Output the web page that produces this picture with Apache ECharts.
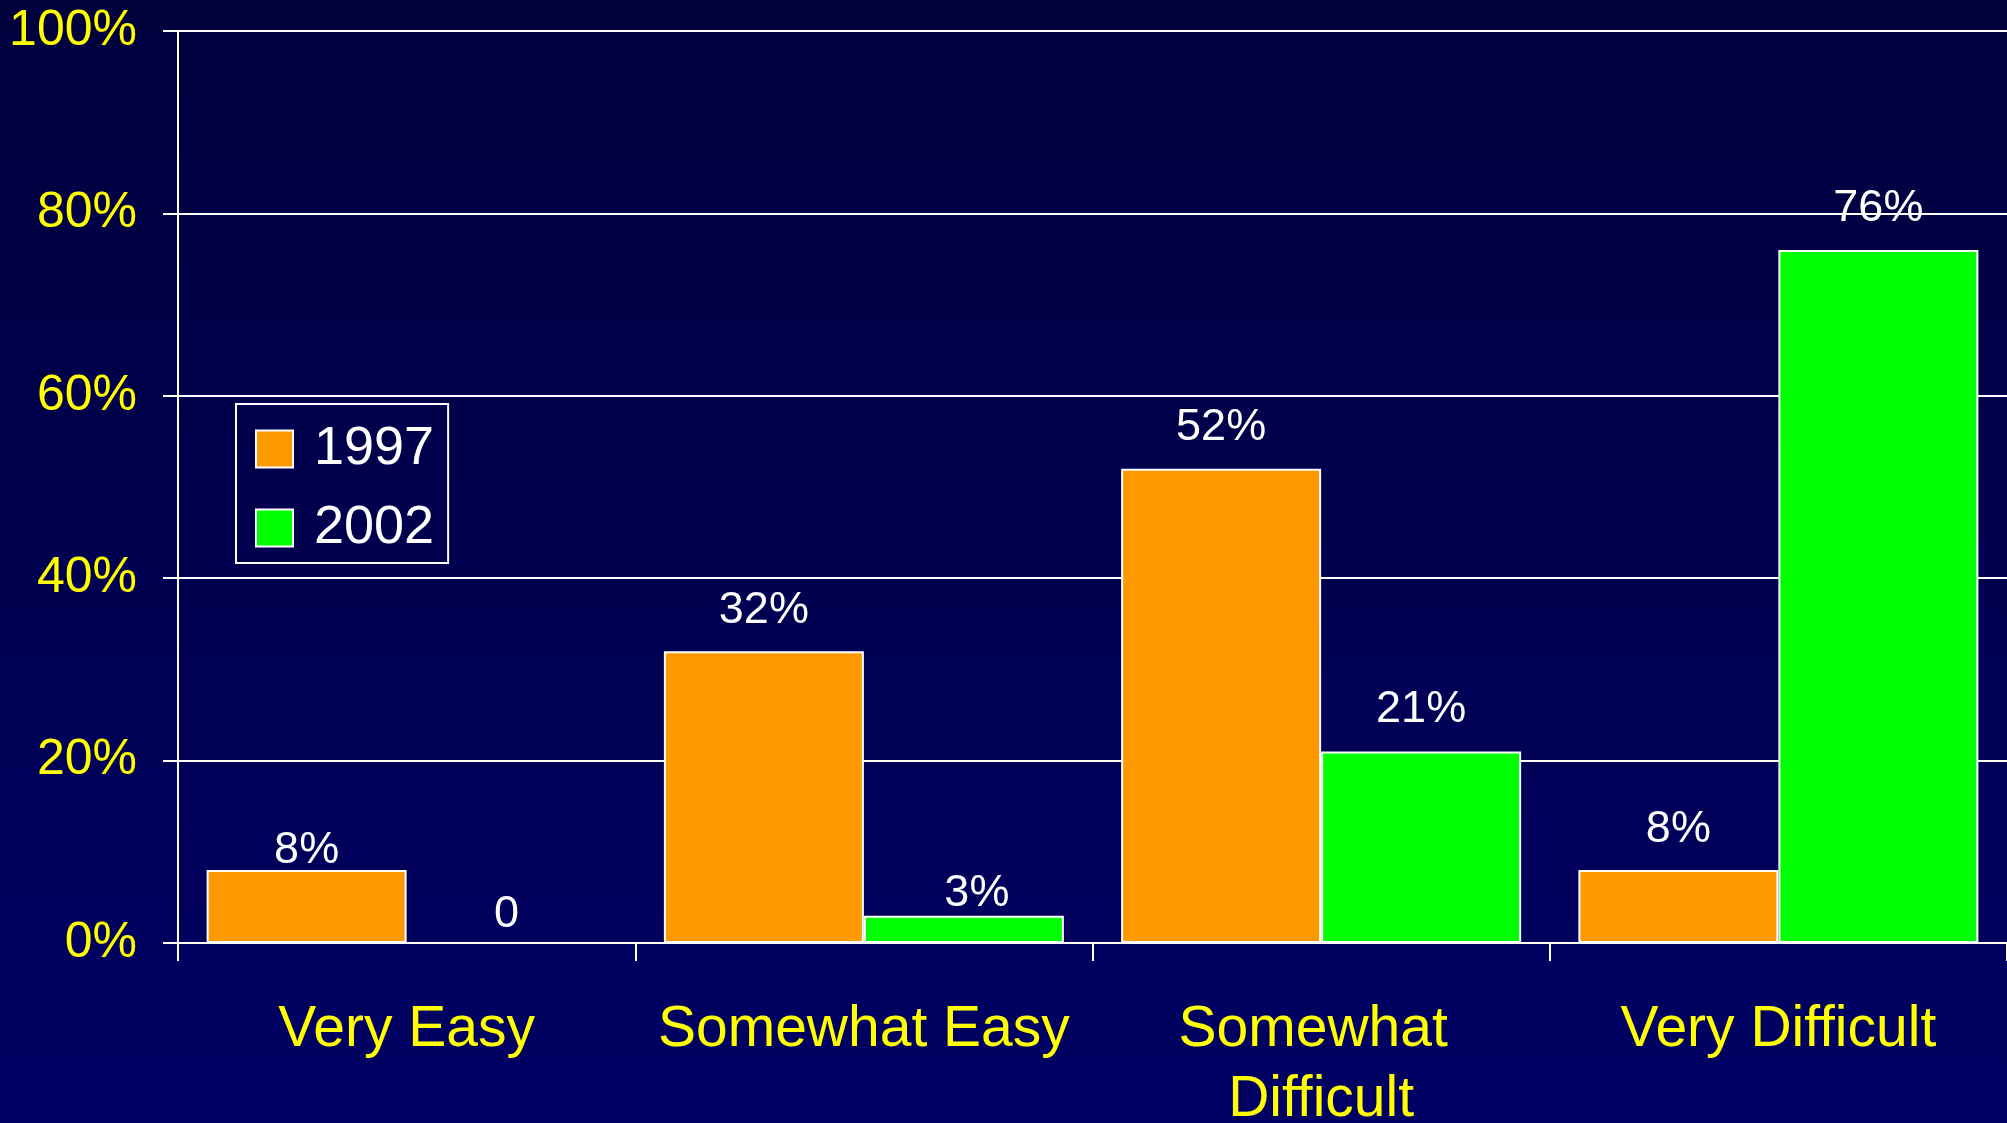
<!DOCTYPE html>
<html>
<head>
<meta charset="utf-8">
<style>
  html, body { margin: 0; padding: 0; background: #000050; }
  #chart { width: 2007px; height: 1123px; }
</style>
<script src="https://cdn.jsdelivr.net/npm/echarts@6/dist/echarts.min.js"></script>
</head>
<body>
<div id="chart"></div>
<script>
// Survey answers, share of respondents per answer
const categories = ['Very Easy', 'Somewhat Easy', 'Somewhat Difficult', 'Very Difficult'];
const values1997 = [8, 32, 52, 8];
const values2002 = [0, 3, 21, 76];
const yTicks = [0, 20, 40, 60, 80, 100];

// label spacing above each bar (px) and sideways nudge
const gap1997 = [-3, 18, 19, 18];
const gap2002 = [5, 0, 19, 19];
const shift2002 = [0, 13, 0, 0];

const FONT = '"Liberation Sans", Arial, sans-serif';

function withLabels(values, gaps, shifts) {
  return values.map((v, i) => ({
    value: v,
    label: { distance: gaps[i], offset: [shifts ? shifts[i] : 0, 0] }
  }));
}

const chart = echarts.init(document.getElementById('chart'), null, { renderer: 'canvas' });

const valueLabel = {
  show: true, position: 'top', color: '#ffffff', fontSize: 45, fontFamily: FONT,
  formatter: p => (p.value === 0 ? '0' : p.value + '%')
};

const option = {
  backgroundColor: {
    type: 'linear', x: 0, y: 0, x2: 0, y2: 1,
    colorStops: [
      { offset: 0, color: '#00003c' },
      { offset: 1, color: '#000064' }
    ]
  },
  animation: false,
  grid: {
    left: 178, right: 0, top: 31, bottom: 180,
    containLabel: false,
    outerBoundsMode: 'none'
  },
  legend: {
    orient: 'vertical',
    left: 236,
    top: 404,
    padding: [17, 14, 7, 19],
    itemGap: 23,
    itemWidth: 37,
    itemHeight: 37,
    itemStyle: { borderColor: '#ffffff', borderWidth: 2 },
    icon: 'rect',
    borderColor: '#ffffff',
    borderWidth: 2,
    textStyle: { color: '#ffffff', fontSize: 54, lineHeight: 56, fontFamily: FONT, padding: [0, 0, 0, 16] },
    data: ['1997', '2002']
  },
  xAxis: {
    type: 'category',
    data: categories,
    boundaryGap: true,
    axisLine: { lineStyle: { color: '#ffffff', width: 2 } },
    axisTick: { show: true, length: 18, lineStyle: { color: '#ffffff', width: 2 } },
    axisLabel: {
      color: '#ffff00',
      fontSize: 57,
      lineHeight: 70,
      fontFamily: FONT,
      margin: 52,
      width: 440,
      overflow: 'break',
      interval: 0
    }
  },
  yAxis: {
    type: 'value',
    min: yTicks[0],
    max: yTicks[yTicks.length - 1],
    interval: yTicks[1] - yTicks[0],
    axisLine: { show: true, lineStyle: { color: '#ffffff', width: 2 } },
    axisTick: { show: true, length: 15, lineStyle: { color: '#ffffff', width: 2 } },
    splitLine: { show: true, lineStyle: { color: '#ffffff', width: 2 } },
    axisLabel: {
      color: '#ffff00',
      fontSize: 50,
      fontFamily: FONT,
      margin: 41,
      formatter: '{value}%'
    }
  },
  series: [
    {
      name: '1997',
      type: 'bar',
      barWidth: 200,
      barGap: '0%',
      data: withLabels(values1997, gap1997),
      itemStyle: { color: '#ff9900', borderColor: '#ffffff', borderWidth: 2 },
      label: valueLabel
    },
    {
      name: '2002',
      type: 'bar',
      barWidth: 200,
      barGap: '0%',
      data: withLabels(values2002, gap2002, shift2002),
      itemStyle: { color: '#00ff00', borderColor: '#ffffff', borderWidth: 2 },
      label: valueLabel
    }
  ]
};

chart.setOption(option);
</script>
</body>
</html>
